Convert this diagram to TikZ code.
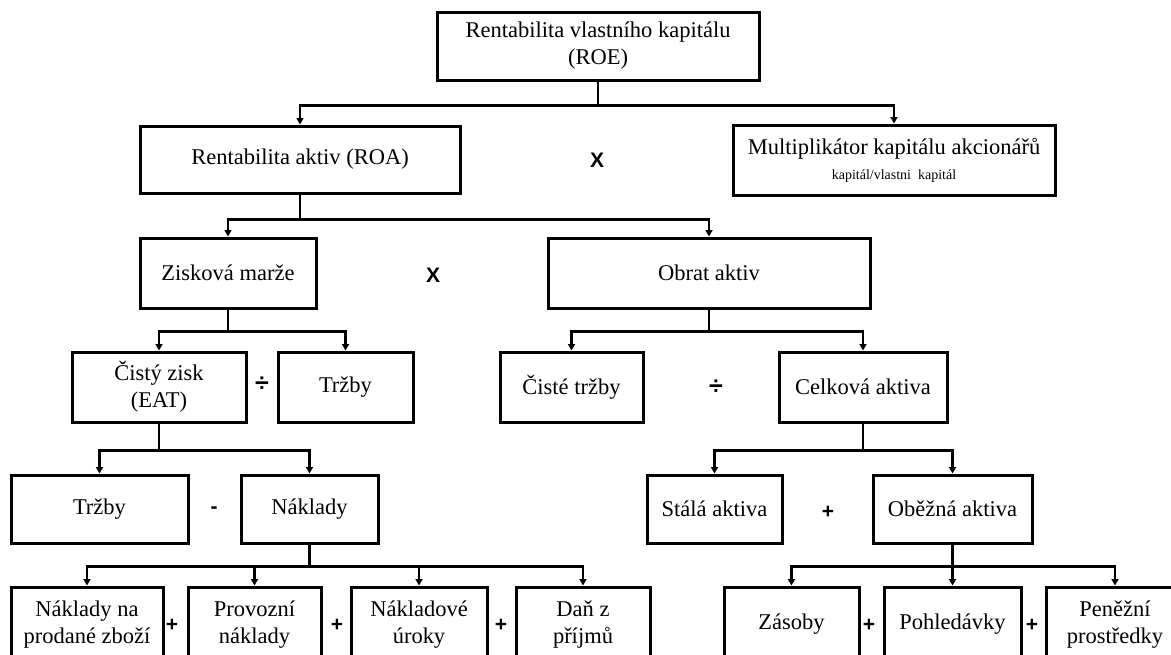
\documentclass[tikz,border=0pt]{standalone}
\usepackage{fontspec}
\setmainfont{Liberation Serif}
\newfontfamily\opfont{Liberation Sans}
\usetikzlibrary{arrows.meta}
\tikzset{
  bx/.style={draw, line width=3pt, inner sep=0pt, align=center,
    font=\fontsize{22.5}{27}\selectfont},
  op/.style={inner sep=0pt, font=\opfont\bfseries\fontsize{21}{21}\selectfont},
  divop/.style={inner sep=0pt, font=\opfont\bfseries\fontsize{25}{25}\selectfont},
  arr/.style={line width=2.2pt, -{Triangle[length=6.5pt,width=7pt]}},
  ln/.style={line width=2.2pt}
}
\begin{document}
\begin{tikzpicture}[x=1pt,y=-1pt]
\useasboundingbox (0,0) rectangle (1171,654);
\clip (0,0) rectangle (1171,654);
% level 0
\node[bx, minimum width=322, minimum height=68] (roe) at (598,46) {Rentabilita vlastního kapitálu\\(ROE)};
% level 1
\node[bx, minimum width=320, minimum height=67] (roa) at (300,159.5) {Rentabilita aktiv (ROA)};
\node[bx, minimum width=322, minimum height=70] (mult) at (894,160) {Multiplikátor kapitálu akcionářů\\[-2pt]{\fontsize{14}{16}\selectfont kapitál/vlastni\ \ kapitál}};
\node[op] (x1) at (597,160) {X};
% level 2
\node[bx, minimum width=176, minimum height=70] (zm) at (228,273) {Zisková marže};
\node[bx, minimum width=322, minimum height=70] (oa) at (709,273) {Obrat aktiv};
\node[op] (x2) at (433,275) {X};
% level 3
\node[bx, minimum width=174, minimum height=70] (cz) at (159,387) {Čistý zisk\\(EAT)};
\node[bx, minimum width=135, minimum height=70] (tr1) at (345.5,387) {Tržby};
\node[divop] (d1) at (262,384) {÷};
\node[bx, minimum width=143, minimum height=70] (ct) at (571.5,387) {Čisté tržby};
\node[bx, minimum width=168, minimum height=70] (ca) at (863,387) {Celková aktiva};
\node[divop] (d2) at (716,387) {÷};
% level 4
\node[bx, minimum width=177, minimum height=68] (tr2) at (99.5,509) {Tržby};
\node[bx, minimum width=137, minimum height=68] (nak) at (309.5,509) {Náklady};
\node[op] (m1) at (214,510) {-};
\node[bx, minimum width=135, minimum height=68] (sa) at (714.5,509) {Stálá aktiva};
\node[bx, minimum width=159, minimum height=68] (ob) at (952.5,509) {Oběžná aktiva};
\node[op] (p0) at (828,512) {+};
% level 5
\node[bx, minimum width=152, minimum height=75] (n1) at (87,624.5) {Náklady na\\prodané zboží};
\node[bx, minimum width=133, minimum height=75] (n2) at (254.5,624.5) {Provozní\\náklady};
\node[bx, minimum width=136, minimum height=75] (n3) at (419,624.5) {Nákladové\\úroky};
\node[bx, minimum width=134, minimum height=75] (n4) at (583,624.5) {Daň z\\příjmů};
\node[op] (p1) at (172,625) {+};
\node[op] (p2) at (337,625) {+};
\node[op] (p3) at (501,625) {+};
\node[bx, minimum width=135, minimum height=75] (z1) at (791.5,624.5) {Zásoby};
\node[bx, minimum width=137, minimum height=75] (z2) at (952.5,624.5) {Pohledávky};
\node[bx, minimum width=138, minimum height=75] (z3) at (1115,624.5) {Peněžní\\prostředky};
\node[op] (p4) at (869,625) {+};
\node[op] (p5) at (1032,625) {+};
% connectors
\draw[arr] (roe.south) -- ++(0,24) -| (roa.north);
\draw[arr] (roe.south) -- ++(0,24) -| (mult.north);
\draw[arr] (roa.south) -- ++(0,25) -| (zm.north);
\draw[arr] (roa.south) -- ++(0,25) -| (oa.north);
\draw[arr] (zm.south) -- ++(0,22) -| (cz.north);
\draw[arr] (zm.south) -- ++(0,22) -| (tr1.north);
\draw[arr] (oa.south) -- ++(0,22) -| (ct.north);
\draw[arr] (oa.south) -- ++(0,22) -| (ca.north);
\draw[arr] (cz.south) -- ++(0,27) -| (tr2.north);
\draw[arr] (cz.south) -- ++(0,27) -| (nak.north);
\draw[arr] (ca.south) -- ++(0,27) -| (sa.north);
\draw[arr] (ca.south) -- ++(0,27) -| (ob.north);
\draw[arr] (nak.south) -- ++(0,22) -| (n1.north);
\draw[arr] (nak.south) -- ++(0,22) -| (n2.north);
\draw[arr] (nak.south) -- ++(0,22) -| (n3.north);
\draw[arr] (nak.south) -- ++(0,22) -| (n4.north);
\draw[arr] (ob.south) -- ++(0,22) -| (z1.north);
\draw[arr] (ob.south) -- ++(0,22) -| (z2.north);
\draw[arr] (ob.south) -- ++(0,22) -| (z3.north);
\end{tikzpicture}
\end{document}
